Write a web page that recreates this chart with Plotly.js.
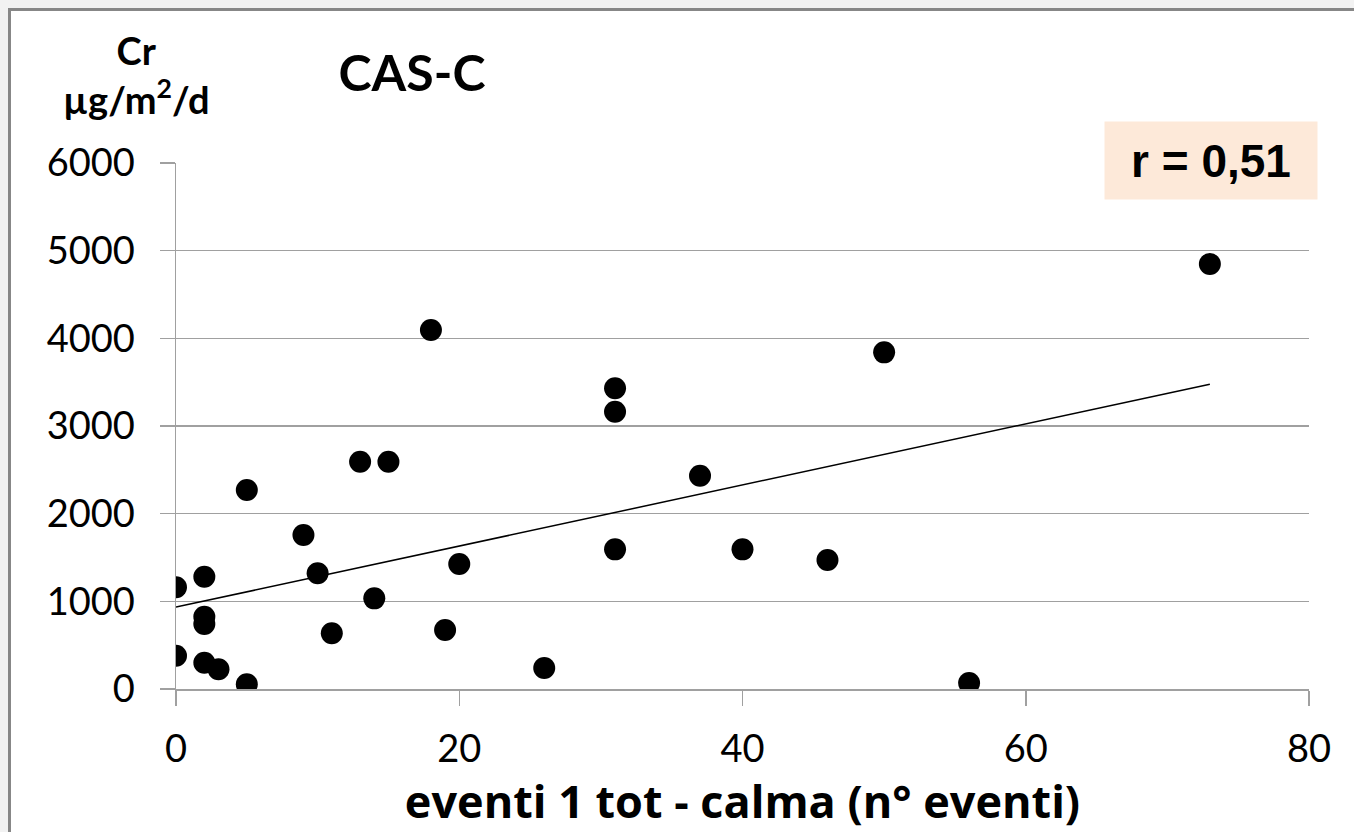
<!DOCTYPE html>
<html>
<head>
<meta charset="utf-8">
<script src="https://cdn.plot.ly/plotly-3.0.1.min.js"></script>
<style>
  html, body { margin:0; padding:0; background:#f2f2f2; width:1354px; height:832px; overflow:hidden; }
  #frame { position:absolute; left:8px; top:8px; width:1346px; height:824px; background:#ffffff;
           border-left:3px solid #878787; border-top:3px solid #878787; box-sizing:border-box; }
  #chart { position:absolute; left:0; top:0; width:1354px; height:832px; }
</style>
</head>
<body>
<div id="frame"></div>
<div id="chart"></div>
<script>
// Data
const eventi = [0, 0, 2, 2, 2, 2, 3, 5, 5, 9, 10, 11, 13, 15, 14, 18, 19, 20, 26, 31, 31, 31, 37, 40, 46, 50, 56, 73];
const cr     = [1160, 380, 1280, 825, 741, 300, 225, 54, 2270, 1757, 1320, 635, 2593, 2593, 1034, 4095, 673, 1426, 240, 3430, 3163, 1593, 2433, 1593, 1471, 3840, 68, 4848];
const xTicks = [0, 20, 40, 60, 80];
const yTicks = [0, 1000, 2000, 3000, 4000, 5000, 6000];
const chartTitle = 'CAS-C';
const yLabel = 'Cr<br>µg/m<sup>2</sup>/d';
const xLabel = 'eventi 1 tot - calma (n° eventi)';
const rLabel = 'r = 0,51';

// Linear least-squares trendline (as in the spreadsheet chart)
const n = eventi.length;
const mx = eventi.reduce((a, b) => a + b, 0) / n;
const my = cr.reduce((a, b) => a + b, 0) / n;
let sxy = 0, sxx = 0;
for (let i = 0; i < n; i++) { sxy += (eventi[i] - mx) * (cr[i] - my); sxx += (eventi[i] - mx) ** 2; }
const slope = sxy / sxx, intercept = my - slope * mx;
const xMin = Math.min(...eventi), xMax = Math.max(...eventi);
const trendX = [xMin, xMax];
const trendY = trendX.map(v => intercept + slope * v);

const gridCol = '#a0a0a0';
const font = 'Lato, "Open Sans", sans-serif';
const wideFont = '"Open Sans", Lato, sans-serif';

const traces = [
  { x: trendX, y: trendY, mode: 'lines', type: 'scatter', line: { color: '#000000', width: 1.5 }, hoverinfo: 'skip' },
  { x: eventi, y: cr, mode: 'markers', type: 'scatter', marker: { color: '#000000', size: 22 } }
];

const layout = {
  width: 1354, height: 832,
  paper_bgcolor: 'rgba(0,0,0,0)', plot_bgcolor: 'rgba(0,0,0,0)',
  showlegend: false,
  margin: { l: 176, r: 45, t: 163, b: 143 },
  font: { family: font, color: '#000000' },
  title: { text: chartTitle, font: { family: font, size: 50, weight: 'bold', color: '#000000' },
           x: 412 / 1354, xanchor: 'center', xref: 'container', y: 1 - 73 / 832, yanchor: 'middle', yref: 'container' },
  xaxis: {
    range: [0, 80], tickvals: xTicks, ticktext: xTicks.map(String),
    showgrid: false, zeroline: false, showline: true, linecolor: gridCol, linewidth: 1.5,
    ticks: 'outside', ticklen: 15, tickcolor: gridCol, tickwidth: 1.5,
    tickfont: { family: font, size: 38, color: '#000000' }, ticklabelstandoff: 11,
    title: { text: xLabel, font: { family: wideFont, size: 45, weight: 'bold', color: '#000000' }, standoff: 8 },
    fixedrange: true
  },
  yaxis: {
    range: [0, 6000], tickvals: yTicks, ticktext: yTicks.map(String),
    showgrid: true, gridcolor: gridCol, gridwidth: 1.5, zeroline: false,
    showline: true, linecolor: gridCol, linewidth: 1.5,
    ticks: 'outside', ticklen: 15, tickcolor: gridCol, tickwidth: 1.5,
    tickfont: { family: font, size: 38, color: '#000000' }, ticklabelstandoff: 17,
    fixedrange: true
  },
  annotations: [
    { text: yLabel, xref: 'paper', yref: 'paper', x: (136 - 176) / 1133, y: (689 - 74) / 526,
      xanchor: 'center', yanchor: 'middle', showarrow: false,
      font: { family: font, size: 38, weight: 'bold', color: '#000000' }, align: 'center' },
    { text: rLabel, xref: 'paper', yref: 'paper', x: (1211 - 176) / 1133, y: (689 - 160.5) / 526,
      xanchor: 'center', yanchor: 'middle', showarrow: false, bgcolor: '#fde9d9',
      width: 212, height: 77, borderpad: 0,
      font: { family: '"Liberation Sans", Arial, sans-serif', size: 46, weight: 'bold', color: '#000000' } }
  ]
};

Plotly.newPlot('chart', traces, layout, { displayModeBar: false, staticPlot: true });
</script>
</body>
</html>
